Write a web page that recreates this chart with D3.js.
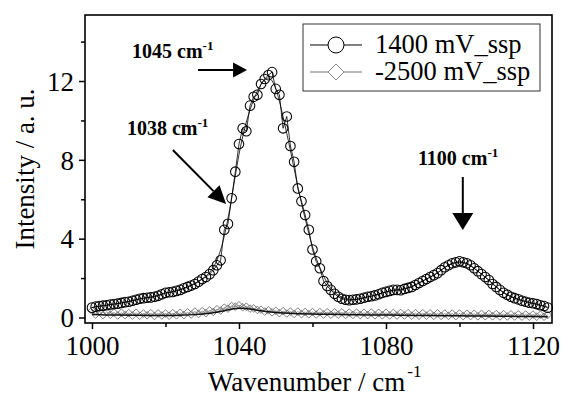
<!DOCTYPE html>
<html><head><meta charset="utf-8">
<script src="https://cdnjs.cloudflare.com/ajax/libs/d3/7.8.5/d3.min.js"></script>
<style>body{margin:0;background:#fff}svg{display:block}text{font-family:"Liberation Serif","Times New Roman",Times,serif}</style>
</head><body>
<svg id="c" width="563" height="396"></svg>
<script>
const xStart = 1000;
const seriesNames = ["1400 mV_ssp", "-2500 mV_ssp"];
const xTicks = [1000, 1040, 1080, 1120];
const xMinor = [1020, 1060, 1100];
const yTicks = [0, 4, 8, 12];
const yMinor = [2, 6, 10, 14];
// 1400 mV, one value per cm^-1 from 1000 to 1124
const v1400 = [
0.50,0.55,0.58,0.60,0.62,0.66,0.68,0.70,0.74,0.78,
0.80,0.85,0.90,0.95,0.98,1.00,1.02,1.05,1.10,1.18,
1.25,1.28,1.30,1.35,1.40,1.48,1.55,1.62,1.70,1.82,
1.95,2.05,2.20,2.40,2.65,2.90,4.45,4.75,6.05,7.40,
8.80,9.60,9.45,10.75,11.20,11.30,11.85,12.10,12.30,12.45,
11.60,11.30,9.60,10.20,8.70,7.90,6.55,5.90,5.20,4.45,
3.45,2.85,2.50,1.85,1.60,1.40,1.20,1.05,0.95,0.90,
0.88,0.90,0.92,0.95,1.00,1.05,1.08,1.12,1.18,1.25,
1.30,1.35,1.40,1.40,1.38,1.45,1.50,1.55,1.65,1.75,
1.85,1.95,2.05,2.15,2.25,2.40,2.55,2.65,2.75,2.80,
2.85,2.80,2.75,2.65,2.50,2.35,2.20,2.05,1.90,1.70,
1.55,1.40,1.25,1.15,1.05,0.98,0.92,0.85,0.80,0.75,
0.72,0.68,0.62,0.58,0.50];
// fitted curve for 1400 mV, every 2 cm^-1
const fit1400 = [
0.50,0.57,0.62,0.68,0.74,0.81,0.90,0.98,1.03,1.12,
1.24,1.31,1.41,1.55,1.72,1.95,2.25,2.80,4.00,6.00,
8.40,10.00,11.10,11.90,12.30,11.80,10.20,8.50,6.60,5.00,
3.50,2.50,1.70,1.25,1.00,0.90,0.92,1.00,1.08,1.18,
1.30,1.38,1.42,1.50,1.65,1.85,2.05,2.25,2.55,2.75,
2.82,2.75,2.50,2.20,1.90,1.55,1.25,1.05,0.92,0.80,
0.72,0.62,0.52];
// -2500 mV, one value per cm^-1 from 1000 to 1124
const vm2500 = [
0.35,0.15,0.30,0.12,0.28,0.14,0.25,0.10,0.24,0.12,
0.22,0.10,0.24,0.09,0.20,0.11,0.22,0.08,0.21,0.10,
0.20,0.09,0.22,0.11,0.24,0.12,0.26,0.15,0.30,0.18,
0.32,0.22,0.36,0.28,0.42,0.35,0.50,0.45,0.58,0.55,
0.62,0.52,0.55,0.45,0.46,0.38,0.40,0.30,0.36,0.26,
0.34,0.22,0.32,0.20,0.30,0.18,0.30,0.17,0.28,0.16,
0.28,0.15,0.27,0.15,0.27,0.14,0.26,0.14,0.26,0.13,
0.25,0.13,0.25,0.12,0.24,0.12,0.25,0.11,0.24,0.11,
0.24,0.10,0.23,0.10,0.23,0.10,0.22,0.09,0.22,0.09,
0.22,0.09,0.21,0.08,0.21,0.08,0.20,0.08,0.20,0.07,
0.20,0.07,0.19,0.07,0.19,0.06,0.18,0.06,0.18,0.06,
0.17,0.05,0.17,0.05,0.16,0.05,0.16,0.04,0.15,0.04,
0.15,0.04,0.14,0.04,0.13];
// fitted curve for -2500 mV, every 4 cm^-1
const fitm2500 = [
0.15,0.13,0.12,0.11,0.10,0.10,0.11,0.14,0.20,0.34,
0.52,0.40,0.28,0.22,0.19,0.17,0.16,0.15,0.14,0.13,
0.12,0.11,0.10,0.10,0.09,0.08,0.08,0.07,0.06,0.05,
0.05,0.04];
const annotations = [
  {label:"1045 cm", wx:1010.9, wy:13.17},
  {label:"1038 cm", wx:1009.5, wy:9.26},
  {label:"1100 cm", wx:1088.7, wy:7.74}
];

const svg = d3.select("#c");
const L=85, R=552, T=15, B=323;
const x = d3.scaleLinear().domain([998.1, 1125.17]).range([L, R]);
const y = d3.scaleLinear().domain([-0.28, 15.35]).range([B, T]);

const d1 = v1400.map((v,i)=>[xStart+i, v]);
const f1 = fit1400.map((v,i)=>[xStart+2*i, v]);
const d2 = vm2500.map((v,i)=>[xStart+i, v]);
const f2 = fitm2500.map((v,i)=>[xStart+4*i, v]);

const line = d3.line().x(d=>x(d[0])).y(d=>y(d[1]));
const smooth = d3.line().x(d=>x(d[0])).y(d=>y(d[1])).curve(d3.curveBasis);

const g = svg.append("g");
// -2500 series
g.append("path").attr("d", line(d2)).attr("fill","none").attr("stroke","#808080").attr("stroke-width",0.8);
const dm = 3.8;
g.selectAll(".dia").data(d2).join("path")
  .attr("d", d=>{const cx=x(d[0]), cy=y(d[1]); return `M${cx},${cy-dm}L${cx+dm},${cy}L${cx},${cy+dm}L${cx-dm},${cy}Z`;})
  .attr("fill","none").attr("stroke","#6e6e6e").attr("stroke-width",0.9);
g.append("path").attr("d", smooth(f2)).attr("fill","none").attr("stroke","#111").attr("stroke-width",1.5);
// 1400 series
g.append("path").attr("d", line(d1)).attr("fill","none").attr("stroke","#000").attr("stroke-width",0.8);
g.append("path").attr("d", smooth(f1)).attr("fill","none").attr("stroke","#000").attr("stroke-width",0.8);
g.selectAll(".cir").data(d1).join("circle")
  .attr("cx", d=>x(d[0])).attr("cy", d=>y(d[1])).attr("r",4.8)
  .attr("fill","none").attr("stroke","#000").attr("stroke-width",1.05);

// frame
svg.append("rect").attr("x",L).attr("y",T).attr("width",R-L).attr("height",B-T)
  .attr("fill","none").attr("stroke","#000").attr("stroke-width",1.6);

// axes
const xa = svg.append("g").attr("transform",`translate(0,${B})`)
  .call(d3.axisBottom(x).tickValues(xTicks).tickSize(6).tickFormat(d3.format("d")));
const xm = svg.append("g").attr("transform",`translate(0,${B})`)
  .call(d3.axisBottom(x).tickValues(xMinor).tickSize(4).tickFormat(""));
const ya = svg.append("g").attr("transform",`translate(${L},0)`)
  .call(d3.axisLeft(y).tickValues(yTicks).tickSize(6).tickFormat(d3.format("d")));
const ym = svg.append("g").attr("transform",`translate(${L},0)`)
  .call(d3.axisLeft(y).tickValues(yMinor).tickSize(4).tickFormat(""));
[xa,xm,ya,ym].forEach(a=>{a.attr("font-family",null); a.select(".domain").remove(); a.selectAll("line").attr("stroke","#000").attr("stroke-width",1.5);});
xa.selectAll("text").attr("font-size",27).attr("fill","#000").attr("dy","0.95em").attr("y",6);
ya.selectAll("text").attr("font-size",27).attr("fill","#000").attr("x",-11).attr("dy","0.34em");

// axis titles
const xt = svg.append("text").attr("x",208).attr("y",391).attr("text-anchor","start").attr("font-size",27);
xt.append("tspan").text("Wavenumber / cm");
xt.append("tspan").text("-1").attr("font-size",17).attr("dx",2).attr("dy",-14);
svg.append("text").attr("transform","translate(34,169) rotate(-90)").attr("text-anchor","middle")
  .attr("font-size",27).text("Intensity / a. u.");

// legend
const lg = svg.append("g");
lg.append("rect").attr("x",303).attr("y",24).attr("width",237).attr("height",67)
  .attr("fill","#fff").attr("stroke","#333").attr("stroke-width",1);
const ly = [45, 72];
seriesNames.forEach((n,i)=>{
  lg.append("line").attr("x1",310).attr("x2",362).attr("y1",ly[i]).attr("y2",ly[i])
    .attr("stroke", i===0?"#000":"#777").attr("stroke-width",1);
  if(i===0){
    lg.append("circle").attr("cx",336).attr("cy",ly[i]).attr("r",8).attr("fill","#fff").attr("stroke","#000").attr("stroke-width",1);
  } else {
    const s=8;
    lg.append("path").attr("d",`M336,${ly[i]-s}L${336+s},${ly[i]}L336,${ly[i]+s}L${336-s},${ly[i]}Z`)
      .attr("fill","#fff").attr("stroke","#888").attr("stroke-width",1);
  }
  lg.append("text").attr("x",375).attr("y",ly[i]+8).attr("font-size",26.5).text(n);
});

// annotations
annotations.forEach(a=>{
  const t = svg.append("text").attr("x",x(a.wx)).attr("y",y(a.wy)).attr("font-size",20).attr("font-weight","bold");
  t.append("tspan").text(a.label);
  t.append("tspan").text("-1").attr("font-size",13).attr("dy",-8);
});
function arrow(x1,y1,x2,y2,hl,hw){
  const ang=Math.atan2(y2-y1,x2-x1), c=Math.cos(ang), s=Math.sin(ang);
  const bx=x2-hl*c, by=y2-hl*s;
  svg.append("line").attr("x1",x1).attr("y1",y1).attr("x2",bx).attr("y2",by).attr("stroke","#000").attr("stroke-width",2);
  svg.append("path").attr("d",`M${x2},${y2}L${bx+hw*s},${by-hw*c}L${bx-hw*s},${by+hw*c}Z`).attr("fill","#000");
}
arrow(x(1028.85), y(12.56), x(1042.2), y(12.56), 14, 7.5);
arrow(x(1022), y(8.5), x(1036.5), y(5.76), 18, 8.5);
arrow(x(1100.9), y(7.13), x(1100.9), y(4.44), 17, 10.5);
</script>
</body></html>
